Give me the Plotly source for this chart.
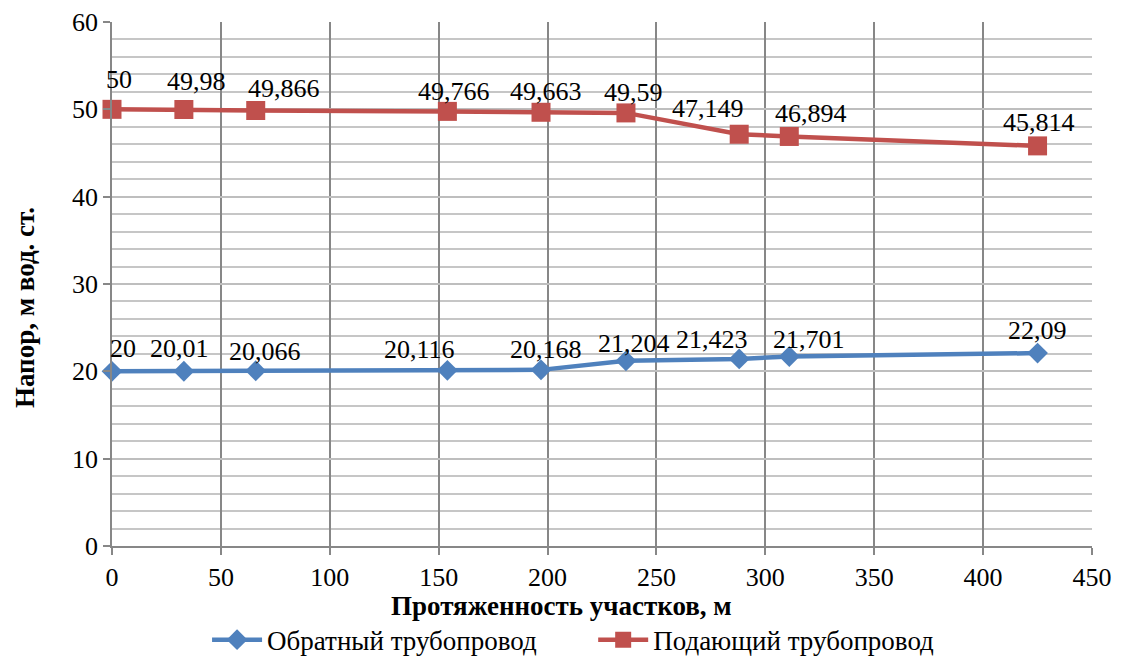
import plotly.graph_objects as go

x_vals = [0, 33, 66, 154, 197, 236, 288, 311, 425]
obratny = [20, 20.01, 20.066, 20.116, 20.168, 21.204, 21.423, 21.701, 22.09]
podayushchiy = [50, 49.98, 49.866, 49.766, 49.663, 49.59, 47.149, 46.894, 45.814]

# label offsets (style only, pixels)
obr_dx = [11, -4, 9, -28, 5, 8, -27, 20, 0]
obr_dy = [23, 23, 19, 21, 20, 17, 19, 17, 23]
pod_dx = [7, 13, 28, 7, 5, 8, -31, 22, 1]
pod_dy = [30, 28, 22, 20, 21, 20, 26, 23, 23]

def fmt(v):
    s = ("%.3f" % v).rstrip("0").rstrip(".")
    return s.replace(".", ",")

FF = "Times New Roman, Liberation Serif, DejaVu Serif, serif"
BLUE = "#4F81BD"
RED = "#C0504D"

fig = go.Figure()
fig.add_trace(go.Scatter(
    x=x_vals, y=obratny, mode="lines+markers",
    name="Обратный трубопровод",
    line=dict(color=BLUE, width=4.5),
    marker=dict(symbol="diamond", size=16, color=BLUE),
    cliponaxis=False, legend="legend",
))
fig.add_trace(go.Scatter(
    x=x_vals, y=podayushchiy, mode="lines+markers",
    name="Подающий трубопровод",
    line=dict(color=RED, width=4.5),
    marker=dict(symbol="square", size=19, color=RED),
    cliponaxis=False, legend="legend2",
))

annotations = []
for xs, ys, dxs, dys in [(x_vals, obratny, obr_dx, obr_dy), (x_vals, podayushchiy, pod_dx, pod_dy)]:
    for xv, yv, dx, dy in zip(xs, ys, dxs, dys):
        annotations.append(dict(
            x=xv, y=yv, xref="x", yref="y", text=fmt(yv), showarrow=False,
            xanchor="center", yanchor="middle", xshift=dx, yshift=dy,
            font=dict(family=FF, size=26, color="black"),
        ))

annotations.append(dict(
    x=0.459, y=-0.1145, xref="paper", yref="paper", showarrow=False,
    text="<b>Протяженность участков, м</b>", xanchor="center", yanchor="middle",
    font=dict(family=FF, size=27, color="black"),
))
annotations.append(dict(
    x=-0.0888, y=0.456, xref="paper", yref="paper", showarrow=False,
    text="<b>Напор, м вод. ст.</b>", textangle=-90, xanchor="center", yanchor="middle",
    font=dict(family=FF, size=27, color="black"),
))

legend_common = dict(orientation="h", yref="container", y=0.026, yanchor="middle",
                     xanchor="left", font=dict(family=FF, size=27), itemwidth=50,
                     bgcolor="rgba(0,0,0,0)")

fig.update_layout(
    width=1115, height=649,
    margin=dict(l=104, r=31, t=14, b=111, autoexpand=False),
    paper_bgcolor="white", plot_bgcolor="white",
    font=dict(family=FF, size=26, color="black"),
    showlegend=True,
    annotations=annotations,
    legend=dict(x=0.097, **legend_common),
    legend2=dict(x=0.491, **legend_common),
)
fig.update_xaxes(
    range=[0, 450], tick0=0, dtick=50, automargin=False,
    showgrid=True, gridcolor="#878787", gridwidth=1.5,
    showline=True, linecolor="#878787", linewidth=1.5,
    ticks="outside", ticklen=7, tickcolor="#878787", tickwidth=1.5,
    tickfont=dict(family=FF, size=26),
    zeroline=False,
)
fig.update_yaxes(
    range=[0, 60], tick0=0, dtick=10, automargin=False,
    showgrid=True, gridcolor="#BEBEBE", gridwidth=1.5,
    minor=dict(dtick=2, showgrid=True, gridcolor="#C6C6C6", gridwidth=1.5),
    showline=True, linecolor="#878787", linewidth=1.5,
    ticks="outside", ticklen=7, tickcolor="#878787", tickwidth=1.5,
    tickfont=dict(family=FF, size=26),
    zeroline=False,
)

fig.write_html("out.html")
